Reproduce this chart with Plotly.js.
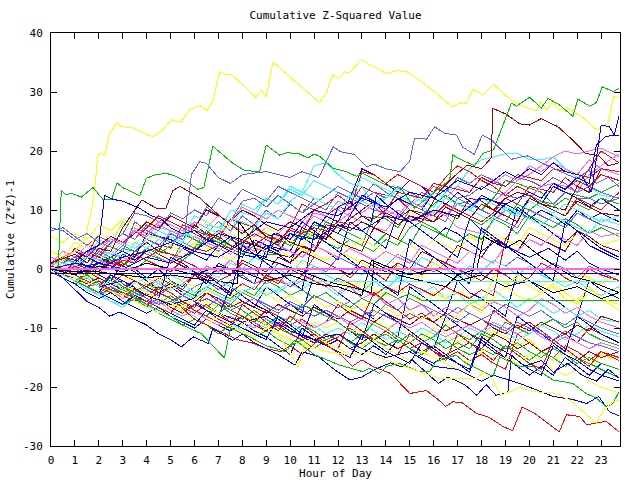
<!DOCTYPE html>
<html>
<head>
<meta charset="utf-8">
<script src="https://cdn.plot.ly/plotly-3.0.1.min.js"></script>
<style>
html,body{margin:0;padding:0;background:#fff;}
#chart{width:640px;height:480px;}
.scatterlayer path{shape-rendering:crispEdges !important;}
</style>
</head>
<body>
<div id="chart"></div>
<script>
// ---- shared half-hour grid for the tangle of walks ----
const halfHours = [0,0.5,1,1.5,2,2.5,3,3.5,4,4.5,5,5.5,6,6.5,7,7.5,8,8.5,9,9.5,10,10.5,11,11.5,12,12.5,13,13.5,14,14.5,15,15.5,16,16.5,17,17.5,18,18.5,19,19.5,20,20.5,21,21.5,22,22.5,23,23.75];
const hourTicks = [0,1,2,3,4,5,6,7,8,9,10,11,12,13,14,15,16,17,18,19,20,21,22,23];
const valueTicks = [-30,-20,-10,0,10,20,30,40];

// ---- tangle series (values at halfHours) ----
const s01 = [2,1, 3.5,2.5, 6,5, 4,6.5, 5,4.2, 3.5,7.5, 6.5,5.8, 5,8.5, 7.8,7, 5.5,4.5, 7,11, 10,11, 12.5,11, 14,13, 12.5,12, 10,9.5, 9,11, 10,9, 8,9.5, 12,11, 14,13.5, 13,15.5, 14,17, 20,18];
const s02 = [0.5,-0.5, -1,2, 1.5,1, 3.5,3, 2.5,1.8, 1,4.5, 3.5,6.5, 5,4, 3,4.5, 2.5,2.5, 6,5, 7.5,7, 6,5, 4,9, 8.5,7, 10,9, 11,12.5, 11,11.5, 10,12, 15,14.5, 13.8,13, 11,13, 12.5,12, 13,14.5];
const s03 = [1,2, 3,2, 5,4, 8,6, 8,7, 6.5,6, 9,8, 7,6, 11,10, 12,11, 14,13, 17.5,18, 16,14.5, 14,11, 12.5,12, 11,12, 10.5,13, 14,17, 18.5,19, 19.5,19.6, 18.5,18.5, 19,17, 15.5,14, 12.5,12];
const s04 = [0,-1, 1,0, 3,2.5, 2,4.5, 3.5,3, 6.5,5.5, 8,7, 6,5, 4,3.5, 3,6, 5,7, 9,8, 10,9, 8,7, 6.5,9, 8.5,8, 10,9, 7,6.5, 6,8, 10,9, 12,14, 14.5,14, 13,16, 17.5,19.5];
const s05 = [6.5,7, 5.5,4, 5.5,4.5, 6,9.5, 9,8, 9,8, 7,10.5, 9,8, 11.5,12, 10.5,12.5, 11,9.5, 11,12.5, 14,13, 12,14.5, 13,12, 11,13, 12,13.5, 12,12.5, 14,13, 12.5,12, 12.5,11.5, 11,13, 12,12, 11,12];
const s06 = [3,2, 1.5,3, 2,1, 0.5,3, 4.5,3, 6,5, 7.5,6, 5.5,4, 3,4.5, 3,2.5, 2,4, 3,7.5, 7,8.5, 10,11.5, 9,7.5, 9,8.5, 8,9.5, 8.5,12, 11.5,10, 12,13, 12.5,11, 10.5,10, 14,13, 17,16];
const s07 = [1,0, -1,0.5, -1,-2, 1,0, -1.5,0, -2,-3, -1,-2.5, 1,0, -1.5,-2.5, 3.5,2.5, 1,5.5, 4,3, 1.5,8, 6.5,5, 3.5,9.5, 8,6.5, 5,3.5, 2,8.5, 6.5,5, 3.5,10.5, 9,7.5, 6,4.5, 6.5,4, 3,1.5];
const s08 = [0,-1, 1.5,0.5, -0.5,2, 0.5,-0.5, -2,-3.5, -2.5,-4, -5,-1, -2.5,-4, -5.5,-6.5, -3,-4.5, -6,-7.5, -1,-2.5, -4,-5.5, -7,-8.5, -10,-11.5, -3,-4.5, -6,-7.5, -2,-4, -5,-6.5, -8,-0.5, -2,-3.5, -5,-6.5, -8,-2, -3.5,-5];
const s09 = [-0.5,-1.5, -2.5,-1.5, -3,-4, -3,-4.5, -5.5,-4, -5,-6.5, -7.5,-6, -7.5,-9, -8,-9, -10.5,-9.5, -11,-12, -11,-12.5, -11.5,-10, -11.5,-12, -10.5,-12, -13.5,-12.5, -14,-15, -14,-15.5, -14.5,-16, -17,-11, -12.5,-14, -15,-13, -14,-15.5, -14,-15];
const s10 = [1,0, -1,0, -1.5,-2.5, -1,-2, -3.5,-2.5, -4,-5.5, -4,-5.5, -6.5,-5, -6,-7.5, -6.5,-8, -9,-10.5, -9,-10, -9,-10.5, -11,-8.5, -10,-9, -11,-12, -10,-11, -12.5,-11, -12,-10.5, -11.5,-13, -12,-14, -15.5,-14, -15,-16.5, -14.5,-15.5];
const s11 = [0,-1, -2,-3, -2,-3.5, -4.5,-3.5, -5,-6, -4.5,-6, -7,-8, -6,-7.5, -8.5,-7, -8.5,-10, -11,-9.5, -10.5,-12, -11,-12.5, -13.5,-12, -11,-12.5, -11,-12.5, -11.5,-9.5, -11,-12, -10.5,-11.5, -9,-10, -11,-9.5, -8.5,-10, -9,-11, -12,-13];
const s12 = [0,-1, -2,-3, -4,-5.5, -6,-4, -6.5,-5, -6,-4, -5,-3.5, -4.5,-5.5, -4,-5, -3,-4, -2.5,-3.5, -2,-3, -4.5,-3, -4,-2, -3.5,-1.5, -2.5,-4, -3,-5, -4,-6, -5,-3.5, -5,-6.5, -5,-6, -7.5,-6.5, -8,-7, -8.5,-9];
const s13 = [0,-1, -2,-3, -4.5,-3.5, -5,-4, -3,-2, -3.5,-2.5, -1,0.5, -0.5,1.5, 0,-1, -2.5,-1.5, -3,-2, -1,-2.5, -4,-3, -5,-4, -6,-5, -7,-6, -8,-6.5, -7.5,-6, -7,-5.5, -6.5,-8, -7,-5, -6,-7.5, -6.5,-8, -9,-10];
const s14 = [0,-1, 0.5,-0.5, 1,0, 2,1, 3.5,2.5, 1.5,0.5, -0.5,-1.5, 0,-1, 1.5,0.5, -0.5,2, 1,3, 2,1, 0,-1, 1.5,0.5, -0.5,1, 0,3, 2,1, 4,3, 2,5, 4,3, 6,5, 4,3, 6.5,5.5, 4,3];
const s15 = [0,-1, -2,-1, -2.5,-1.5, -3,-2, -3.5,-4.5, -3,-4.5, -3,-2, -3.5,-2, -1,-2.5, -1.5,1, 0,-1, 0.5,-0.5, 2,1, 0,-1, 0.5,2.5, 1.5,0.5, -0.5,1, 0,-1.5, -0.5,1.5, 0.5,2, 1,-0.5, 1,0, -1.5,0.5, -0.5,-2];
const s16 = [1,0, -1,-2, -3,-1, -2.5,-3.5, -4.5,-3, -4,-5.5, -6.5,-4, -5.5,-7, -8,-9, -7,-8, -9.5,-8.5, -10,-9, -6,-7.5, -8.5,-4, -5.5,-7, -8.5,-7.5, -9,-10.5, -9.5,-11, -12,-7, -8.5,-10, -9,-10.5, -12,-11, -12.5,-10, -11,-12.5];
const s17 = [0,-1.5, -2.5,-4, -5,-4, -5.5,-6.5, -7.5,-6.5, -8,-9, -10,-8.5, -9.5,-10.5, -9,-10.5, -11.5,-13, -14.5,-10, -11.5,-13, -12,-13.5, -14.5,-13, -14.5,-12, -13.5,-15, -16,-14.5, -16,-17.5, -12,-13.5, -15,-16.5, -18,-16.5, -18,-15, -16.5,-18, -16,-17];
const s18 = [2,1.5, 3,2, 4,3, 5,4, 6,5, 4,3, 4.5,3.5, 2.5,1.5, 3,2, 4,3, 2,1, 0,-1, -2,-3, -2,-3.5, -4.5,-3, -4.5,-5.5, -4,-5, -3.5,-5, -6.5,-5, -3,-4.5, -5.5,-4, -3,-5, -6,-4, -5,-7];
const s19 = [0.5,2, 1,0, 2.5,1.5, 0.5,2, 3.5,2.5, 4,6, 5,4, 3,5, 4,7, 6,5, 4,6, 5,8, 7,6, 5,4, 6,5, 4,7.5, 6.5,5.5, 4.5,6, 5,8.5, 7.5,6, 9,8, 7,8.5, 7.5,6, 7,5.5];
const s20 = [0,-1, -2,-1, -2.5,-3.5, -2,-3, -4,-2.5, -1,-2, 0.5,-0.5, -1.5,1, 0,2, 1,0, -1,1.5, 0.5,-1, -2,0, -1,1, 0,-1.5, -0.5,2, 1,0, -1.5,0.5, -0.5,1.5, 0.5,-1, 0.5,-1, -2,-3, -2,-3.5, -4.5,-3];
const s21 = [0,-1, -2,-3, -4,-3, -4.5,-5.5, -4,-5, -6.5,-7.5, -6,-7, -8.5,-9.5, -8,-9.5, -10.5,-9, -10,-11.5, -12.5,-11, -12,-13.5, -12.5,-11, -12.5,-13.5, -12.5,-14, -13,-14.5, -13.5,-12.5, -13.5,-11, -12,-13.5, -12.5,-14, -13,-14.5, -15.5,-14, -15,-14];
const s22 = [1,3, 2,4, 3,5, 4,7, 6,8, 7.5,6.5, 8,7, 6,7.5, 6.5,5.5, 7,6, 8,7, 9.5,9, 8,9.5, 11.5,10.5, 9,10, 9,8, 10,9, 11,10.5, 12.5,11.5, 13,15, 16,17.5, 19,20, 19.5,20, 20.5,19];
const s23 = [0,1, 0,2, 1,0, 2.5,1.5, 3,2, 1,3.5, 2.5,1.5, 4,3, 2,5, 4,3, 6,5, 8,7, 6,9, 12.5,11.5, 10,12, 11,10, 13,12, 11,10, 12.5,11.5, 10.5,9, 12,11, 14,13, 12,10.5, 12,10];
const s24 = [0.5,0, -0.5,0.5, 1,2, 3,2, 6,5.5, 5,4, 3,5, 4.5,3.5, 2.5,2, 4,3.5, 3,7, 6,9, 8,12, 17,16, 14.5,13, 15,14, 12,11, 13,11.5, 10,9, 11,10, 8.5,10, 9,7.5, 10,8.5, 9.5,8];
const s25 = [0,-1, -2,-1, -2.5,-1.5, -3,-4, -2.5,-3.5, -2,-3.5, -4.5,-3, -4,-5, -3.5,-4.5, -2,-3, -4.5,-3.5, -5,-4, -5.5,-6.5, -5,-6, -4,-5, -4.2,-5.3, -5.3,-5.3, -5.3,-5.3, -5.3,-5.3, -5.3,-5.3, -5.3,-5.3, -5.3,-5.3, -5.3,-5.3, -5.3,-5.3];
const s26 = [0,1, 0,-1, 0.5,2, 1,0, 1.5,3.5, 2.5,1.5, 3,5.5, 4.5,3.5, 2.5,4, 3,5, 4,6.5, 5.5,4.5, 3.5,5, 4,3, 5,4, 7,8, 7,5.5, 9.5,8.5, 7.5,9, 8,11, 10,11.5, 10.5,12, 11,10, 12,11];
const s27 = [0,-1, -2,-3.5, -4.5,-5.5, -6.5,-5, -6,-7.5, -8.5,-7, -8,-9.5, -8,-9, -10.5,-9, -10,-8, -9,-10.5, -9.5,-11, -10,-11, -9,-10.5, -12,-10.5, -11.5,-10, -11,-12.5, -11.5,-10, -11,-9.5, -10.5,-12, -11,-9.5, -10.5,-12, -11,-9.5, -10.5,-11.5];
const s28 = [3,2, 4.5,3.5, 6,5, 7.5,6.5, 5.5,7, 9,8, 7,6, 8,7, 6,5, 7,6, 5,4, 6.5,5.5, 4.5,3.5, 5,4, 3,2, 4,3, 5,4, 3,5.5, 4.5,6, 5,4, 7,6, 5,4, 6,5, 4,5];
const s29 = [0,-1, -2,-0.5, -1.5,-2.5, -1,-2, -3,-1.5, -2.5,-3.5, -1,-2, -3,-4, -2.5,-3.5, -1,-2, -3,-1, -2,-3, -1.5,-2.5, -3.5,-4.5, -3,-4, -2.5,-3.5, -4.5,-3, -4,-5, -3.5,-4.5, 5,8, 12,11, 10,9, 12,11, 10,13];
const s30 = [0,-1, -1.5,-2.5, -1.5,-2.5, -3.5,-2, -3,-4, -3,-4.5, -5.5,-4, -5,-6.5, -5.5,-6.5, -7.5,-6, -7,-8, -6.5,-7.5, -8.5,-7, -8,-9, -7.5,-8.5, -9.5,-8, -9,-7.5, -8.5,-9.5, -8.5,-10, -11,-9.5, -10.5,-9, -10,-11, -9.5,-10.5, -8,-9];
const s31 = [0,-1, -2,-3, -4,-3, -4,-5, -6,-5, -6,-7, -6,-5, -6,-7, -6,-5, -6.5,-7.5, -6,-7, -8,-7, -8,-9, -8,-7, -8,-9, -7.5,-8.5, -7,-8, -6.5,-7.5, -8.5,-7.5, -6,-7, -8,-7, -8.5,-9.5, -8,-9, -10,-11];
const s32 = [2,1, 0,2.5, 1.5,0.5, 2,1, 3,2, 1,3.5, 5.5,4.5, 3.5,2.5, 4,3, 5,4, 3,2, 4,3, 2,3.5, 2.5,1.5, 3,2, 1,4, 3,2, 1,3, 2,1, 4,3, 5,4, 6,5, 4,6.5, 5.5,6];
const s33 = [0,-1, -2,-3, -2,-3.5, -4.5,-3, -4,-5, -6,-4.5, -5.5,-7, -8,-3, -4.5,-6, -7,-8.5, -10,-11.5, -6,-7.5, -9,-10.5, -12,-6, -7.5,-9, -10.5,-12, -13.5,-8, -9.5,-11, -12.5,-14, -15,-8, -9.5,-11, -12.5,-14, -8,-9.5, -11,-12.5];
const s34 = [0.5,-0.5, 1,0, -1,1.5, 0.5,2.5, 1.5,0.5, -0.5,1.5, 0.5,-1, -2,-1, 1,0, -1.5,-2.5, 0,-1, 2,1, 0,-1.5, 0.5,-0.5, -2,1, 0,-1, 2,1, 0,-1, -2,0, -1,-2.5, -1.5,1, 0,-1.5, -2.5,0, -1,-2];
const s35 = [0,-1, -2,-3, -4,-5, -6,-5, -6.5,-7.5, -8.5,-9.5, -8.5,-9.5, -11,-9.5, -10.5,-11.5, -10.5,-12, -13,-12, -13.5,-12, -11,-12.5, -11,-12, -13,-12, -13.5,-14.5, -13,-12, -13.5,-14.5, -13.5,-14.5, -13,-14, -15.5,-14, -15,-16.5, -15,-16, -17,-18.5];
const s36 = [0,1, 2,1, 3,2, 4,3, 5,4, 6,5, 7,6, 8,6.5, 9,7.5, 10,8.5, 11,9.5, 12,11, 10,12.5, 11.5,13, 12,14, 13,12, 14,13, 15.5,14.5, 16,15, 14,15.5, 15,14, 15.5,14.5, 13,14, 13,12];
const s37 = [0,-1, -0.5,-1.5, 0,-1, -2,-1, -2.5,-1.5, -3,-2, -3,-4, -3,-4.5, -3.5,-5, -4,-5.5, -4.5,-6, -5,-6.5, -5.5,-7, -6,-7.5, -6.5,-8, -7,-8.5, -7.5,-9, -8,-6, -7.5,-1, -2.5,-1.5, -3,-4, -2.5,-4, -5.5,-3, -5,-6];
const s38 = [5.5,4.5, 6,5, 7.5,6.5, 8.5,7.5, 6.5,9, 8,7, 6,8, 7,6, 5,4, 3,5.5, 4.5,3.5, 2.5,1.5, 3,2, 1,0, -1,0.5, -0.5,-1.5, 1,0, -1,-2, -1,-2, -3,-1, -2,-3, -1.5,-2.5, -0.5,-1.5, -2.5,-1];
const s39 = [0,1.5, 1,3, 2,4.5, 6,5, 7,9, 8,7, 6,5, 6.5,5.5, 4.5,6, 5,4, 7,6, 10,9, 10.5,10, 16.5,16, 14.5,16, 15,14, 13,15.5, 17.5,16.5, 15,14, 12.5,14, 13,12, 14.5,13.5, 15,14, 16,15];
const s40 = [0,-1, -2,-3, -4,-5, -4,-5.5, -6.5,-5.5, -7,-8, -7,-8.5, -9.5,-8, -9,-10, -8.5,-9.5, -8,-9, -10,-9, -8,-9.5, -8.5,-9.5, -10.5,-9, -10,-9, -10.5,-11.5, -10.5,-9.5, -10.5,-9, -10,-11, -10,-11.5, -12.5,-11.5, -12.5,-13.5, -12.5,-13.5];
const s41 = [0.5,1.5, 1,2.5, 3.5,2.5, 4.5,3.5, 5,6.5, 5.5,4.5, 8,7, 6,10, 9.5,9, 12,11, 13.5,12.5, 15,14, 13,12, 15.5,14.5, 13.5,12.5, 11.5,10.5, 9.5,12, 11,10, 9,8, 10.5,9.5, 8.5,7.5, 9,8, 7,6, 8.5,7.5];
const s42 = [0,1, 2,3, 2.5,4.5, 6,5, 7.5,6.5, 9.5,8.5, 10,9, 12,11, 13.5,12.5, 11.5,14, 13,12, 11,10, 13,12, 11,10, 9.5,8.5, 11,10, 9,8, 12,11, 10,9, 8,7, 10,9, 8,7, 9.5,8.5, 7.5,6.5];
const s43 = [0,-1, -2,-3, -4,-1, -2,-3, -4,-5, 2,1, -0.5,-2, -3,-4.5, 4,2.5, 1,-0.5, -2,-3.5, 6,4.5, 3,1.5, 0,-1.5, -3,-4.5, 5,3.5, 2,0.5, -1,-2.5, 7,5.5, 4,2.5, 1,-0.5, -2,8, 6.5,5, 3.5,2];
const s44 = [0,-1, -2,-3, -2,-3.5, -4.5,-5.5, -6.5,-3, -4,-5.5, -7,-8, -9,-10, -6,-7.5, -9,-10.5, -8,-9.5, -11,-12.5, -13.5,-9, -10.5,-12, -13.5,-14.5, -11,-12.5, -14,-15.5, -11,-12.5, -14,-15.5, -13,-14.5, -16,-17, -12,-13.5, -15,-16.5, -14,-15.5];
const s45 = [1,2, 3,2, 4,5.5, 4.5,6, 8,7, 9,8, 7,10, 9,8, 10,9, 7.5,6.5, 8,7, 6,5, 7.5,6.5, 8,7, 9.5,8.5, 10,9, 8,10.5, 9.5,8.5, 11,10, 9,8, 12,11, 10,9, 11.5,10.5, 9.5,9];
const s46 = [0,-1, -2,-1, -2.5,-3.5, -4.5,-3, -4,-5, -6,-4.5, -5.5,-6.5, -7.5,-6, -7,-8.5, -9.5,-8, -9,-6, -7,-8, -9,-10.5, -11.5,-9, -10,-11.5, -12.5,-11, -12,-13.5, -12.5,-13.5, -11,-12, -13.5,-12.5, -14,-15, -13.5,-14.5, -16,-15, -16,-17];
const s47 = [0.5,2, 3,2.5, 4,5, 4.5,6.5, 5.5,7.5, 6.5,5.5, 8,7, 9,8, 10.5,9.5, 8.5,10, 9,8, 10,9, 11.5,10.5, 9.5,11, 10,9, 11.5,10.5, 13,12, 14,13, 15.5,14.5, 16,15, 17.5,16.5, 18,17, 16,18.5, 17,16];
const s48 = [0,-1, -2,-3, -4,-5, -4,-5.5, -6.5,-7.5, -6,-7, -8.5,-9.5, -8,-9.5, -10.5,-11.5, -10,-11, -12,-13, -11.5,-12.5, -13.5,-14.5, -13,-12, -13.5,-14.5, -15.5,-14, -15,-16, -17,-15.5, -14,-13, -15,-16, -14.5,-15.5, -17,-18, -17,-19, -20,-21];
const s49 = [0,-1, -2,-3, -4,-5, -6,-4.5, -5.5,-6.5, -7.5,-8.5, -9.5,-7, -8,-9, -10,-11, -12,-8, -9.5,-11, -12,-13, -14,-15, -11,-12.5, -14,-15, -16,-12.5, -13.5,-15, -16,-17, -11.5,-13, -14,-15.5, -17,-18, -13,-14.5, -15.5,-17, -18,-19];
const s50 = [0,1, 0.5,2, 1.5,3, 2,4.5, 3.5,5, 4,6, 5.5,7.5, 7,8.5, 8,7, 9.5,8.5, 11.5,13, 12,11, 10,12.5, 11.5,10.5, 12,13.5, 12.5,11.5, 13,12, 11,10, 12,11, 10,9, 11.5,10.5, 9.5,11, 10,9, 8,9];
const s51 = [0,-1, 0.5,-0.5, 1,0, 1.5,1, 2,3, 2.5,2, 3.5,3, 4,3.5, 5,4, 5.5,5, 6.5,6, 7,6.5, 8,7.5, 9,8.5, 10,13, 12.5,12, 14.5,14, 13.5,13, 15.5,14.5, 14,16, 15.5,15, 17,16.5, 16,15.5, 17,16.5];
const s52 = [0,-1, -2,-3, -2.5,-3.5, -4.5,-4, -5,-6, -5.5,-4.5, -5.5,-6.5, -5,-6, -4,-5, -6,-7, -5.5,-6.5, -4.5,-5.5, -6.5,-5.5, -7,-8, -6,-7, -5,-6, -7,-8, -9,-7.5, -8.5,-9.5, -10.5,-9, -10,-11, -12,-10.5, -11.5,-12.5, -13,-14];

// ---- outlying walks as [hour, value] vertices ----
const yellowTop = [[0,0],[0.5,1.5],[1,3],[1.4,5],[1.69,9.7],[1.85,14.5],[1.95,19],[2.04,19.6],[2.25,19.3],[2.45,23],[2.76,24.8],[2.94,24.1],[3.36,24],[3.85,23.1],[4.26,22.4],[4.68,23.6],[5.03,25.3],[5.45,24.9],[5.8,27],[6.22,27.7],[6.52,26.8],[6.77,28.6],[7.05,33.4],[7.33,32.9],[7.54,33],[8.1,30.9],[8.56,29.1],[8.8,30.3],[9,29.2],[9.28,35.1],[9.98,32.6],[10.47,31],[11.23,28.2],[11.51,29.8],[11.79,33.1],[12,32.2],[12.28,33.4],[12.48,33.3],[12.98,35.5],[13.32,34.6],[13.53,34.3],[14.02,33.1],[14.44,33.6],[14.86,33.5],[15.41,32],[16.11,29.8],[16.76,27.5],[17.16,28.2],[17.36,28],[17.64,30.5],[18.06,29.5],[18.5,31.3],[18.83,30.1],[19.25,28.6],[19.73,27.6],[20.29,26.8],[20.5,28.4],[20.71,26.9],[20.98,28.4],[21.26,26.9],[21.55,27.4],[22.24,25.7],[22.8,23.6],[23.29,24.7],[23.52,29.2],[23.75,29.1]];
const greenTop = [[0,0],[0.3,-0.5],[0.43,13.4],[0.61,12.6],[0.85,12.8],[1.27,12.2],[1.76,13.8],[2.17,11.8],[2.53,11.8],[2.76,14.6],[3,13.8],[3.71,12.4],[3.99,15.4],[4.4,16],[4.82,16.2],[5.1,15.9],[5.8,14.5],[6.15,13.5],[6.39,13.8],[6.77,20.8],[7.61,17.9],[8.1,16.7],[8.72,16.5],[9,21],[9.56,19.3],[9.84,19.7],[10.33,19.6],[10.74,18.8],[11,19.5],[11.23,19.1],[11.79,17.1],[12.35,16.5],[12.77,15.7],[13.05,16.2],[14.02,14.2],[14.65,13.6],[15.2,10.3],[15.67,11.8],[16,13],[16.67,15.1],[16.8,19.3],[17.22,18.4],[17.71,17.5],[18.06,19.6],[18.5,20.2],[19.25,28.1],[19.46,27.6],[20.01,29.1],[20.5,27.3],[20.78,28.9],[21.26,27.8],[21.82,25.9],[22.03,28.8],[22.52,27.6],[22.8,28.2],[23.05,30.9],[23.5,30.1],[23.75,30.6]];
const lightBlueHigh = [[0,7],[0.5,6.5],[1,5],[1.5,6],[2,4.5],[3,3],[3.5,8],[4,6.5],[5,4.5],[5.6,6],[5.87,16],[6.22,18.2],[6.5,17.9],[7,15.5],[7.5,14.5],[8,16],[9,16.5],[10,15.5],[10.5,16.5],[11.2,15.5],[11.8,20.7],[12.1,19.9],[12.7,19.4],[13.2,17.3],[13.5,17.8],[14,17],[14.6,16.5],[15,18.3],[15.2,22.2],[15.7,22],[16.04,24.1],[16.46,23],[16.95,22.7],[17.2,20.7],[17.7,19.4],[18.03,22.7],[18.4,21.9],[18.8,20.3],[19.25,18.6],[19.9,19.2],[20.5,18],[21.3,16.5],[22,15.3],[22.5,16.8],[22.8,14.5],[23.3,15.5],[23.75,14]];
const darkRedHigh = [[0,1],[1,2.5],[1.5,1],[2,3.5],[2.5,3],[3,7],[3.8,11.7],[4.4,10.3],[4.8,10.3],[5.1,13.3],[5.4,14],[6.2,12.1],[7.05,9],[7.6,7.2],[8,6],[8.5,7.5],[9,5.5],[9.5,6],[10,4.5],[11,3],[11.5,6],[12,4.5],[13,3],[13.5,7],[14.5,5],[15,9],[15.5,8],[16.2,13],[16.8,15.5],[17.4,17.6],[18,17],[18.4,18.8],[18.48,27.2],[19,26.3],[19.6,24.6],[20,24.4],[20.5,25.5],[21.2,24.1],[21.8,21.9],[22.35,19.6],[22.9,19.2],[23.3,17.5],[23.75,18]];
const blueEarlyJump = [[0,0],[1,1],[1.5,3],[2,4],[2.24,12.5],[2.6,11.8],[3,11.5],[3.7,10.3],[4.2,9],[4.6,8.5],[5,7],[5.5,6],[6,6.5],[6.5,5],[7,4],[7.5,5.5],[8,3],[9,2],[9.3,6],[10,5],[10.5,8],[11,6.5],[11.5,5],[12,10.5],[12.5,11.5],[13,9],[13.4,8],[13.6,12.5],[14,11],[14.5,9.5],[15,8],[15.5,6.5],[16,5],[16.5,7],[17,6],[17.5,4.5],[18,3],[18.7,5],[19.2,3.5],[20,2],[20.8,3.5],[21.5,1.5],[22,3],[22.5,1],[23,0],[23.75,-1]];
const blueLateJump = [[0,0],[1,1],[2,0],[3,2],[4,3],[5,4.5],[6,3],[7,6],[8,5],[9,8],[10,7],[11,10],[12,9],[13,12],[14,10.5],[15,13],[16,12],[17,15],[18,13.5],[19,16.5],[19.5,15.5],[20,17],[20.5,16],[21,18],[21.5,16.5],[22.2,15.8],[22.6,13],[23,24.4],[23.35,24.1],[23.55,22.7],[23.75,26]];
const blueLateJump2 = [[0,0],[1,-1],[2,1],[3,0],[4,2],[5,1],[6,3],[7,2],[8,4.5],[9,3.5],[10,6],[11,5],[12,7.5],[13,6.5],[14,9],[15,8],[16,10],[17,9],[18,12],[19,11],[20,13],[20.5,12],[21,14.5],[21.5,13.5],[22,15.5],[22.5,14.5],[22.8,21],[23.2,22.5],[23.75,22.7]];
const redBottom = [[0,0],[1,-1.5],[2,-3],[3,-4],[4,-5.5],[5,-7.5],[5.3,-6],[6,-8.5],[6.5,-9.5],[7,-10.5],[7.8,-12],[8.4,-12.5],[9,-13.5],[9.6,-14],[10,-13],[10.5,-14.5],[11.2,-12],[12.1,-14.5],[12.6,-16.5],[13,-15.4],[13.5,-16.6],[14.2,-17.7],[15,-21.1],[15.7,-20.6],[16.3,-22.5],[16.5,-23.3],[16.8,-22.5],[17.2,-22.7],[17.8,-24.5],[18.3,-25.1],[18.9,-26.7],[19.3,-27.4],[19.7,-23.4],[20.2,-24.4],[20.7,-25.9],[21.25,-27.6],[21.55,-24.7],[22.1,-25],[22.4,-26.4],[22.8,-26.1],[23.2,-25.8],[23.75,-27.6]];
const blueBottom = [[0,0],[0.5,-1.5],[1,-3.5],[1.5,-5.5],[2,-6.5],[2.45,-8],[2.87,-7.3],[3.5,-8.5],[4,-9.5],[4.5,-11],[5,-12],[5.45,-13.2],[5.94,-11.5],[6.57,-12.6],[6.77,-10.1],[7.6,-12.1],[8,-11],[8.5,-12.5],[9,-13.5],[9.5,-14.5],[10.2,-16.3],[10.5,-14],[11.2,-14.9],[11.8,-16.9],[12.5,-18.8],[13,-18.3],[13.6,-16.9],[14.2,-15.9],[14.65,-16.6],[15.1,-15.4],[16.2,-19.4],[16.6,-18.3],[17.3,-19.6],[17.8,-21.4],[18.2,-19.6],[18.6,-21.4],[19.1,-21],[19.25,-14.6],[19.8,-16.5],[20.5,-15.5],[21,-17.5],[21.6,-16],[22.2,-18],[22.8,-19],[23.3,-17],[23.75,-18.5]];
const blueBottom2 = [[0,0],[1,-1.5],[2,-3],[3,-2],[4,-4.5],[5,-6],[6,-5],[7,-7.5],[8,-9],[9,-8],[10,-10.5],[11,-12],[12,-11],[13,-13.5],[14,-15],[15,-14],[16,-16.5],[17,-17],[18,-19],[18.5,-18],[19.6,-19.4],[20.3,-20.5],[21,-21.6],[21.8,-22.1],[22.4,-22.8],[22.9,-21.6],[23.35,-24.2],[23.75,-24.9]];
const greenBottom = [[0,0],[1,-2],[2,-4],[3,-3.5],[4,-6],[5,-8],[5.5,-9.5],[6.3,-11],[7.25,-15.1],[7.5,-10],[8.3,-11.5],[9,-13],[9.8,-14],[10.2,-12],[11,-14.5],[12.07,-16.3],[13.04,-17.4],[13.32,-16.8],[13.74,-17.7],[14.02,-16.5],[14.57,-16],[15.41,-17.4],[15.83,-17.4],[16.1,-15.7],[16.94,-14.6],[17.36,-16],[18.06,-17.4],[18.48,-18.2],[18.76,-14.9],[19.03,-15.4],[19.59,-16.5],[20.15,-16.5],[20.98,-18.8],[21.82,-19.4],[22.38,-21.1],[22.8,-21.9],[23.21,-23.3],[23.49,-22.8],[23.75,-20.8]];
const yellowBottom = [[0,0],[1,-1.5],[2,-3],[3,-4.5],[3.5,-3],[4.5,-5],[5.5,-6.5],[6,-5],[7,-7.5],[8,-9.5],[8.5,-8],[9.5,-11],[10.33,-16.6],[10.6,-13],[11.5,-14],[12.6,-14.6],[13.3,-14],[14,-15.4],[15.4,-17.4],[16.25,-18.5],[17.8,-18.5],[18.1,-17.5],[18.5,-19],[18.8,-21.4],[19.2,-20.8],[19.6,-20],[20.15,-20.8],[21,-21],[21.7,-22.2],[22.8,-26.1],[23.1,-23.9],[23.5,-22.5],[23.75,-22.2]];
const blackA = [[0,0],[1,-0.5],[2,-0.5],[3,-1],[4,-1.5],[5,-1],[5.8,-1.5],[7.8,-2.5],[7.85,8],[8.3,5.5],[8.7,2],[9.5,1],[10.5,-0.5],[11.8,-2.4],[12.5,-3],[13.4,-4],[13.5,1],[14.5,-1],[15.5,-2],[16.5,-3],[17,-1],[17.8,0],[18.1,5.5],[19,3.5],[19.6,4.9],[20.5,2],[21.8,-1.3],[22.5,-2],[23.75,-4]];
const blackB = [[0,0],[1,-1],[2,0.5],[3,-0.5],[4,1],[5,0],[6,-1],[7,0.5],[8,-0.5],[9,-2],[10,-1],[11,-2.5],[12,-3],[13,-4.5],[13.4,1.5],[14,0.5],[15,-1],[16,0],[17,-2],[18,-1],[19,-3],[20,-2],[21,-4],[22,-3],[23,-5],[23.75,-4]];
const cyanFlat = [[0,0],[0.5,-1],[1,-2],[1.5,-1.5],[2,-3],[2.5,-2],[3,-3.5],[3.5,-2.5],[4,-1.5],[5,-3.5],[5.5,-2.5],[6,-4],[6.5,-3],[7,-2],[8,-4],[8.5,-3],[9,-4.5],[9.5,-3.5],[10,-2.15],[23.75,-2.15]];
const blueFlat = [[0,-0.8],[23.75,-0.8]];
const magentaFlat = [[0,0],[23.75,0]];

// ---- drawing ----
const C = {red:'#ff0000', green:'#00c000', blue:'#0000ff', lblue:'#6060ff', mag:'#ff60ff', cyan:'#30ffff', dred:'#a00000', yel:'#ffff00', blk:'#000000'};
const traces = [];
function addY(y, color){ traces.push({type:'scatter', mode:'lines', x:halfHours, y:y, line:{color:color, width:1}, hoverinfo:'skip'}); }
function addP(p, color, w){ traces.push({type:'scatter', mode:'lines', x:p.map(d=>d[0]), y:p.map(d=>d[1]), line:{color:color, width:w||1}, hoverinfo:'skip'}); }

[[s01,C.red],[s02,C.green],[s03,C.cyan],[s04,C.mag],[s05,C.lblue],[s06,C.dred],[s07,C.blue],[s08,C.blue],
 [s09,C.red],[s10,C.yel],[s11,C.green],[s12,C.cyan],[s13,C.mag],[s14,C.dred],[s15,C.lblue],[s16,C.red],
 [s17,C.blue],[s18,C.yel],[s19,C.green],[s20,C.cyan],[s21,C.dred],[s22,C.mag],[s23,C.blue],[s24,C.blue],
 [s25,C.green],[s26,C.green],[s27,C.cyan],[s28,C.yel],[s29,C.red],[s30,C.dred],[s31,C.lblue],[s32,C.mag],
 [s33,C.blue],[s34,C.red],[s35,C.green],[s36,C.lblue],[s37,C.yel],[s38,C.yel],[s39,C.red],[s40,C.mag],
 [s41,C.cyan],[s42,C.lblue],[s43,C.blue],[s44,C.red],[s45,C.dred],[s46,C.green],[s47,C.mag],[s48,C.yel],
 [s49,C.blue],[s50,C.cyan],[s51,C.red],[s52,C.lblue]
].forEach(d => addY(d[0], d[1]));

addP(yellowTop, C.yel); addP(greenTop, C.green); addP(lightBlueHigh, C.lblue); addP(darkRedHigh, C.dred);
addP(blueEarlyJump, C.blue); addP(blueLateJump, C.blue); addP(blueLateJump2, C.blue);
addP(redBottom, C.red); addP(blueBottom, C.blue); addP(blueBottom2, C.blue); addP(greenBottom, C.green); addP(yellowBottom, C.yel);
addP(blackA, C.blk); addP(blackB, C.blk);
addP(cyanFlat, C.cyan); addP(blueFlat, '#0000c0'); addP(magentaFlat, C.mag, 2);

const font = {family:'"DejaVu Sans Mono", "Liberation Mono", monospace', size:11, color:'#000'};
const axisCommon = {showline:true, linecolor:'#000', linewidth:1, mirror:'ticks', ticks:'inside', ticklen:6, tickwidth:1, tickcolor:'#000',
  showgrid:false, zeroline:false, automargin:false, tickfont:font};
const layout = {
  width:640, height:480,
  margin:{l:51, r:20, t:33, b:34, pad:0},
  paper_bgcolor:'#fff', plot_bgcolor:'#fff',
  showlegend:false, hovermode:false,
  font:font,
  title:{text:'Cumulative Z-Squared Value', font:font, xref:'paper', x:0.5, xanchor:'center', yref:'container', y:0.968, yanchor:'middle'},
  xaxis:Object.assign({}, axisCommon, {range:[0,23.79], tickmode:'array', tickvals:hourTicks, ticktext:hourTicks.map(String),
    ticklabelstandoff:4, title:{text:'Hour of Day', font:font, standoff:2}}),
  yaxis:Object.assign({}, axisCommon, {range:[-30,40], tickmode:'array', tickvals:valueTicks, ticktext:valueTicks.map(String),
    ticklabelstandoff:5, title:{text:'Cumulative (Z*Z)-1', font:font, standoff:6}})
};
Plotly.newPlot('chart', traces, layout, {staticPlot:true, displayModeBar:false});
</script>
</body>
</html>
